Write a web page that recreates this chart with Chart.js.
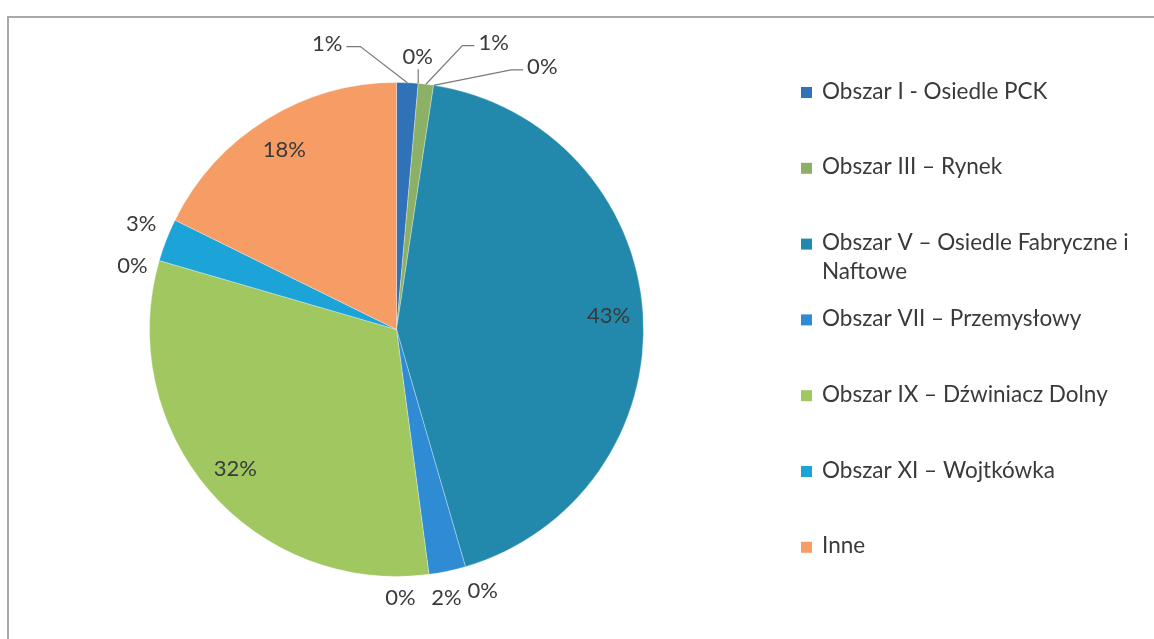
<!DOCTYPE html>
<html>
<head>
<meta charset="utf-8">
<script src="https://cdn.jsdelivr.net/npm/chart.js@4/dist/chart.umd.min.js"></script>
<style>
  html, body { margin: 0; padding: 0; background: #ffffff; }
  #wrap { position: relative; width: 1154px; height: 639px; }
  canvas { display: block; }
</style>
</head>
<body>
<div id="wrap"><canvas id="c" width="1154" height="639"></canvas></div>
<script>
// Area names (share of respondents by area of the town)
const categories = [
  'Obszar I - Osiedle PCK',
  'Obszar II',
  'Obszar III – Rynek',
  'Obszar IV',
  'Obszar V – Osiedle Fabryczne i Naftowe',
  'Obszar VI',
  'Obszar VII – Przemysłowy',
  'Obszar VIII',
  'Obszar IX – Dźwiniacz Dolny',
  'Obszar X',
  'Obszar XI – Wojtkówka',
  'Inne'
];
// Shares in percent
const shares = [1.4, 0, 1.0, 0, 43.1, 0, 2.4, 0, 31.6, 0, 2.8, 17.7];

const sliceColors = [
  '#2f72b8', '#c0504d', '#8cb166', '#8064a2', '#2289ad', '#f79646',
  '#2f8bd3', '#4f81bd', '#a1c860', '#9bbb59', '#1ca3d8', '#f69c65'
];

// Label placement: 'in' = inside the slice at 0.86 R,
// otherwise [angle shift from slice middle (deg), distance in radii]
const labelPlacement = [
  [-16.1, 1.195], [-0.6, 1.11], [11.8, 1.23], [20.3, 1.22], 'in',
  [-2.1, 1.11], [1.3, 1.10], [6.7, 1.085], 'in',
  [-2.5, 1.10], [1.4, 1.12], 'in'
];
// Which outside labels get a leader line
const withLeader = [true, true, true, true, false, false, false, false, false, false, false, false];

const FONT = '"Lato", "Open Sans", sans-serif';
const TEXT = '#3a3a3a';

const framePlugin = {
  id: 'frame',
  beforeDraw(chart) {
    const ctx = chart.ctx;
    ctx.save();
    ctx.strokeStyle = '#a9a9a9';
    ctx.lineWidth = 2;
    ctx.strokeRect(8, 17, 1300, 700);
    ctx.restore();
  }
};

const sliceLabelPlugin = {
  id: 'sliceLabels',
  afterDatasetsDraw(chart) {
    const ctx = chart.ctx;
    const meta = chart.getDatasetMeta(0);
    const vals = chart.data.datasets[0].data;
    const total = vals.reduce((a, b) => a + b, 0);
    ctx.save();
    ctx.font = '22px ' + FONT;
    ctx.fillStyle = TEXT;
    ctx.textAlign = 'center';
    ctx.textBaseline = 'alphabetic';
    meta.data.forEach((arc, i) => {
      const { x, y, startAngle, endAngle, outerRadius } = arc.getProps(['x', 'y', 'startAngle', 'endAngle', 'outerRadius'], true);
      const mid = (startAngle + endAngle) / 2;
      const txt = Math.round(vals[i] / total * 100) + '%';
      const pl = labelPlacement[i];
      let lx, ly;
      if (pl === 'in') {
        lx = x + Math.cos(mid) * outerRadius * 0.86;
        ly = y + Math.sin(mid) * outerRadius * 0.86;
      } else {
        const a = mid + pl[0] * Math.PI / 180;
        lx = x + Math.cos(a) * outerRadius * pl[1];
        ly = y + Math.sin(a) * outerRadius * pl[1];
      }
      ctx.fillText(txt, lx, ly + 8);
      if (pl !== 'in' && withLeader[i]) {
        const ax = x + Math.cos(mid) * outerRadius;
        const ay = y + Math.sin(mid) * outerRadius;
        const w = ctx.measureText(txt).width;
        ctx.save();
        ctx.strokeStyle = '#7a7a7a';
        ctx.lineWidth = 1.2;
        ctx.beginPath();
        if (Math.abs(lx - ax) < w * 0.6) {
          ctx.moveTo(ax, ly + 13);
          ctx.lineTo(ax, ay);
        } else if (lx < ax) {
          const sx = lx + w / 2 + 4;
          ctx.moveTo(sx, ly + 4);
          ctx.lineTo(sx + 14, ly + 4);
          ctx.lineTo(ax, ay);
        } else {
          const sx = lx - w / 2 - 4;
          ctx.moveTo(sx, ly + 4);
          ctx.lineTo(sx - 12, ly + 4);
          ctx.lineTo(ax, ay);
        }
        ctx.stroke();
        ctx.restore();
      }
    });
    ctx.restore();
  }
};

const legendPlugin = {
  id: 'sideLegend',
  afterDraw(chart) {
    const ctx = chart.ctx;
    const ds = chart.data.datasets[0];
    const items = chart.data.labels
      .map((l, i) => ({ text: l, color: ds.backgroundColor[i], v: ds.data[i] }))
      .filter(it => it.v > 0);
    const x0 = 801, y0 = 92.5, step = 75.8, box = 11, maxW = 322, lineH = 29;
    ctx.save();
    ctx.font = '22.5px ' + FONT;
    ctx.textAlign = 'left';
    ctx.textBaseline = 'alphabetic';
    items.forEach((it, k) => {
      const cy = y0 + k * step;
      ctx.fillStyle = it.color;
      ctx.fillRect(x0, cy - box / 2, box, box);
      // wrap words to the legend width
      const words = it.text.split(' ');
      const lines = [];
      let cur = '';
      words.forEach(wd => {
        const t = cur ? cur + ' ' + wd : wd;
        if (ctx.measureText(t).width > maxW && cur) { lines.push(cur); cur = wd; }
        else cur = t;
      });
      lines.push(cur);
      ctx.fillStyle = TEXT;
      lines.forEach((ln, j) => ctx.fillText(ln, x0 + 21, cy + 6 + j * lineH));
    });
    ctx.restore();
  }
};

new Chart(document.getElementById('c'), {
  type: 'pie',
  data: {
    labels: categories,
    datasets: [{
      data: shares,
      backgroundColor: sliceColors,
      borderColor: 'rgba(255,255,255,0.3)',
      borderWidth: 1
    }]
  },
  options: {
    responsive: false,
    animation: false,
    layout: { padding: { left: 149, right: 510, top: 82, bottom: 62 } },
    plugins: {
      legend: { display: false },
      tooltip: { enabled: false }
    }
  },
  plugins: [framePlugin, sliceLabelPlugin, legendPlugin]
});
</script>
</body>
</html>
